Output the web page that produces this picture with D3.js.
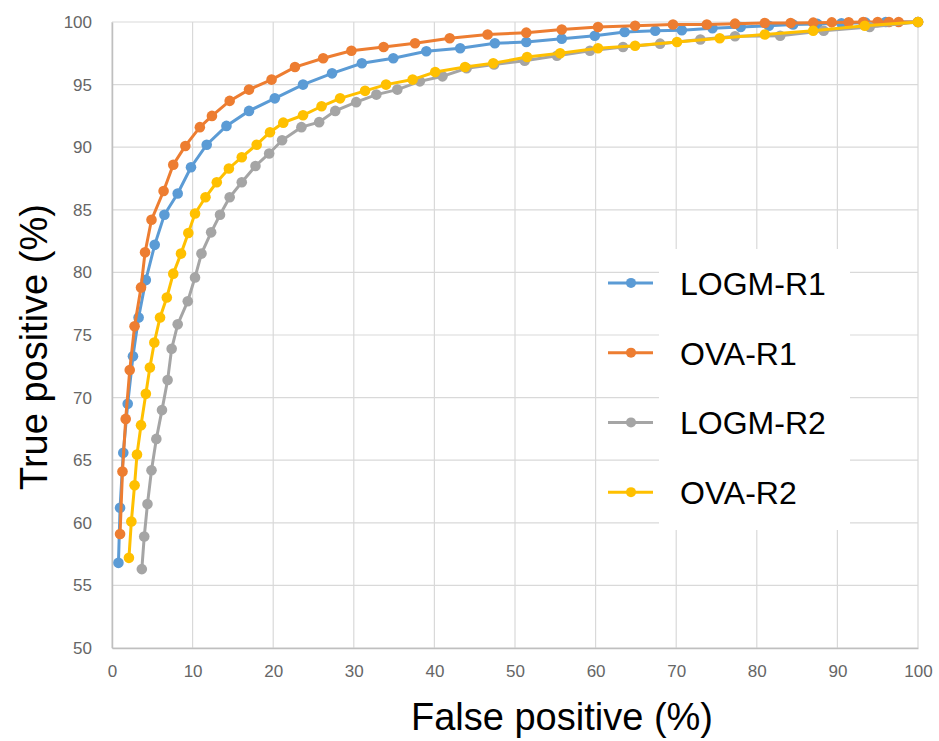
<!DOCTYPE html>
<html>
<head>
<meta charset="utf-8">
<script src="https://cdn.jsdelivr.net/npm/d3@7"></script>
<style>
  body { margin: 0; background: #fff; }
  text { font-family: 'Liberation Sans', Arial, sans-serif; }
</style>
</head>
<body>
<div id="chart"></div>
<script>
// ROC points (false positive %, true positive %)
const logmR1X = [0.8, 1.0, 1.4, 1.95, 2.6, 3.3, 4.2, 5.3, 6.5, 8.15, 9.8, 11.75, 14.2, 17.0, 20.2, 23.7, 27.3, 31.0, 34.9, 39.0, 43.2, 47.5, 51.4, 55.8, 59.9, 63.6, 67.4, 70.7, 74.5, 78.0, 81.5, 84.5, 87.5, 90.5, 93.5, 96, 100]
const logmR1Y = [56.8, 61.2, 65.6, 69.5, 73.3, 76.4, 79.4, 82.2, 84.6, 86.3, 88.4, 90.2, 91.7, 92.9, 93.9, 95.0, 95.9, 96.7, 97.1, 97.66, 97.9, 98.3, 98.4, 98.67, 98.9, 99.2, 99.3, 99.35, 99.5, 99.6, 99.7, 99.8, 99.85, 99.9, 99.95, 100, 100]

const ovaR1X = [1.0, 1.3, 1.7, 2.2, 2.8, 3.6, 4.1, 4.9, 6.4, 7.6, 9.1, 10.9, 12.4, 14.6, 17.0, 19.8, 22.7, 26.2, 29.7, 33.7, 37.6, 41.9, 46.6, 51.4, 55.8, 60.3, 64.9, 69.6, 73.8, 77.3, 81.0, 84.2, 87.0, 89.3, 91.4, 93.2, 95.0, 96.4, 97.6, 100]
const ovaR1Y = [59.1, 64.1, 68.3, 72.2, 75.7, 78.8, 81.6, 84.2, 86.5, 88.6, 90.1, 91.6, 92.5, 93.7, 94.6, 95.4, 96.4, 97.1, 97.7, 98.0, 98.3, 98.7, 99.0, 99.15, 99.4, 99.6, 99.7, 99.8, 99.8, 99.87, 99.92, 99.92, 99.95, 99.97, 99.98, 100, 100, 100, 100, 100]

const logmR2X = [3.7, 4.0, 4.4, 4.9, 5.5, 6.2, 6.9, 7.4, 8.15, 9.4, 10.3, 11.1, 12.3, 13.4, 14.6, 16.1, 17.8, 19.5, 21.1, 23.5, 25.7, 27.7, 30.3, 32.8, 35.4, 38.2, 41.0, 44.0, 47.4, 51.2, 55.2, 59.3, 63.4, 68.0, 73.0, 77.3, 82.9, 88.3, 94.0, 100]
const logmR2Y = [56.3, 58.9, 61.5, 64.2, 66.7, 69.0, 71.4, 73.9, 75.85, 77.7, 79.6, 81.5, 83.2, 84.6, 86.0, 87.2, 88.5, 89.5, 90.55, 91.6, 92.0, 92.9, 93.6, 94.2, 94.6, 95.26, 95.66, 96.3, 96.6, 96.9, 97.3, 97.7, 98.0, 98.27, 98.6, 98.86, 98.9, 99.3, 99.6, 100]

const ovaR2X = [2.1, 2.4, 2.8, 3.1, 3.6, 4.2, 4.7, 5.25, 5.96, 6.8, 7.6, 8.56, 9.47, 10.3, 11.6, 13.0, 14.5, 16.1, 17.95, 19.6, 21.25, 23.7, 26.0, 28.3, 31.4, 34.0, 37.3, 40.1, 43.8, 47.3, 51.5, 55.6, 60.3, 64.9, 70.1, 75.4, 81.0, 87.0, 93.4, 100]
const ovaR2Y = [57.2, 60.1, 63.0, 65.45, 67.8, 70.3, 72.4, 74.4, 76.4, 78.0, 79.9, 81.5, 83.15, 84.7, 86.0, 87.2, 88.3, 89.2, 90.2, 91.2, 91.96, 92.55, 93.27, 93.9, 94.5, 95.0, 95.4, 96.0, 96.4, 96.7, 97.2, 97.5, 97.9, 98.1, 98.4, 98.7, 99.0, 99.3, 99.7, 100]

const seriesNames = ['LOGM-R1', 'OVA-R1', 'LOGM-R2', 'OVA-R2']
const seriesColors = ['#5b9bd5', '#ed7d31', '#a5a5a5', '#ffc000']
const xTicks = [0, 10, 20, 30, 40, 50, 60, 70, 80, 90, 100]
const yTicks = [50, 55, 60, 65, 70, 75, 80, 85, 90, 95, 100]

const margin = { top: 22, left: 112, right: 21, bottom: 93 }
const width = 939 - margin.left - margin.right
const height = 741 - margin.top - margin.bottom

const svg = d3
  .select('#chart')
  .append('svg')
  .attr('width', 939)
  .attr('height', 741)

const g = svg
  .append('g')
  .attr('transform', 'translate(' + margin.left + ',' + margin.top + ')')

const xScale = d3.scaleLinear().domain([0, 100]).range([0, width])
const yScale = d3.scaleLinear().domain([50, 100]).range([height, 0])

// gridlines
g.append('g')
  .selectAll('line')
  .data(yTicks)
  .enter()
  .append('line')
  .attr('x1', 0)
  .attr('x2', width)
  .attr('y1', d => yScale(d))
  .attr('y2', d => yScale(d))
  .attr('stroke', '#d9d9d9')
  .attr('stroke-width', 1.2)

g.append('g')
  .selectAll('line')
  .data(xTicks)
  .enter()
  .append('line')
  .attr('x1', d => xScale(d))
  .attr('x2', d => xScale(d))
  .attr('y1', 0)
  .attr('y2', height)
  .attr('stroke', '#d9d9d9')
  .attr('stroke-width', 1.2)

// axes (labels only, plus the left / bottom lines)
const xAxis = g
  .append('g')
  .attr('transform', `translate(0,${height})`)
  .call(d3.axisBottom(xScale).tickValues(xTicks).tickSize(0).tickPadding(17))
xAxis.select('.domain').attr('stroke', '#bfbfbf').attr('stroke-width', 1.5)

const yAxis = g
  .append('g')
  .call(d3.axisLeft(yScale).tickValues(yTicks).tickSize(0).tickPadding(20))
yAxis.select('.domain').attr('stroke', '#bfbfbf').attr('stroke-width', 1.5)

g.selectAll('.tick text')
  .attr('font-family', "'Liberation Sans', Arial, sans-serif")
  .attr('font-size', 17)
  .attr('fill', '#666')

// series
const allSeries = [
  { xs: logmR1X, ys: logmR1Y },
  { xs: ovaR1X, ys: ovaR1Y },
  { xs: logmR2X, ys: logmR2Y },
  { xs: ovaR2X, ys: ovaR2Y }
].map((s, i) => ({
  name: seriesNames[i],
  color: seriesColors[i],
  points: s.xs.map((x, j) => [x, s.ys[j]])
}))

const line = d3
  .line()
  .x(d => xScale(d[0]))
  .y(d => yScale(d[1]))

allSeries.forEach(function(s) {
  const sg = g.append('g')
  sg.append('path')
    .attr('d', line(s.points))
    .attr('fill', 'none')
    .attr('stroke', s.color)
    .attr('stroke-width', 3)
  sg.selectAll('circle')
    .data(s.points)
    .enter()
    .append('circle')
    .attr('cx', d => xScale(d[0]))
    .attr('cy', d => yScale(d[1]))
    .attr('r', 5.3)
    .attr('fill', s.color)
})

// legend: white panel behind the labels
svg
  .append('rect')
  .attr('x', 659)
  .attr('y', 249)
  .attr('width', 191)
  .attr('height', 281)
  .attr('fill', '#fff')

const legendY = d3.scaleBand().domain(seriesNames).range([248, 527])

svg
  .selectAll('.legend')
  .data(allSeries)
  .enter()
  .append('g')
  .attr('class', 'legend')
  .each(function(d) {
    const lg = d3.select(this)
    const cy = legendY(d.name) + legendY.bandwidth() / 2
    lg.append('line')
      .attr('x1', 608)
      .attr('x2', 653)
      .attr('y1', cy)
      .attr('y2', cy)
      .attr('stroke', d.color)
      .attr('stroke-width', 3)
    lg.append('circle')
      .attr('cx', 631)
      .attr('cy', cy)
      .attr('r', 5)
      .attr('fill', d.color)
    lg.append('text')
      .text(d.name)
      .attr('x', 680)
      .attr('y', cy + 12)
      .attr('font-size', 32)
      .attr('fill', '#000')
  })

// axis titles
svg
  .append('text')
  .text('False positive (%)')
  .attr('x', 562)
  .attr('y', 730)
  .attr('text-anchor', 'middle')
  .attr('font-size', 38)
  .attr('fill', '#000')

svg
  .append('text')
  .text('True positive (%)')
  .attr('transform', 'translate(47,347) rotate(-90)')
  .attr('text-anchor', 'middle')
  .attr('font-size', 38)
  .attr('fill', '#000')
</script>
</body>
</html>
